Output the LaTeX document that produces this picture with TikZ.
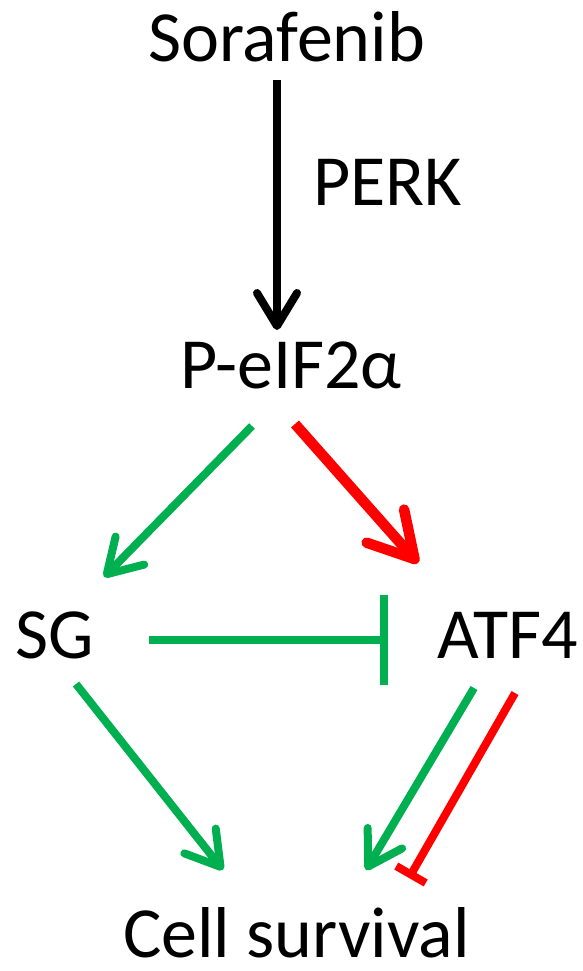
\documentclass[tikz,border=0pt]{standalone}
\usepackage{fontspec}
\setmainfont{Carlito}
\usetikzlibrary{arrows.meta}
\definecolor{okgreen}{HTML}{00B050}
\definecolor{okred}{HTML}{FF0000}
\begin{document}
\begin{tikzpicture}[x=1pt,y=-1pt,
  lbl/.style={inner sep=0pt, anchor=base west, font=\fontsize{72}{86}\selectfont},
  act/.style={line width=8pt, -{Straight Barb[length=33pt,width=40pt,round]}},
  bigact/.style={line width=10.5pt, -{Straight Barb[length=44pt,width=50pt,round]}},
  inh/.style={line width=8pt, -{Bar[width=#1]}}]
\useasboundingbox (0,0) rectangle (582,971);
% labels
\node[lbl] (sor) at (148,62) {Sorafenib};
\node[lbl] (perk) at (313,205) {PERK};
\node[lbl] (peif) at (180,388) {P-eIF2α};
\node[lbl] (sg) at (15,658) {SG};
\node[lbl] (atf) at (437,658) {ATF4};
\node[lbl] (cs) at (123,957) {Cell survival};
% connector end points
\coordinate (sorB) at (277,80);
\coordinate (peifT) at (277,330);
\coordinate (peifL) at (252,426);
\coordinate (sgT) at (104,577);
\coordinate (peifR) at (295,424);
\coordinate (atfT) at (418,563);
\coordinate (sgR) at (149,640);
\coordinate (atfL) at (388,640);
\coordinate (sgB) at (76,684);
\coordinate (csL) at (223,870);
\coordinate (atfB1) at (474,688);
\coordinate (csR) at (366,870);
\coordinate (atfB2) at (515,693);
\coordinate (csRR) at (409,878);
% connectors
\draw[act, black] (sorB) -- (peifT);
\draw[act, okgreen] (peifL) -- (sgT);
\draw[bigact, okred] (peifR) -- (atfT);
\draw[inh=90pt, okgreen] (sgR) -- (atfL);
\draw[act, okgreen] (sgB) -- (csL);
\draw[act, okgreen] (atfB1) -- (csR);
\draw[inh=34pt, okred] (atfB2) -- (csRR);
\end{tikzpicture}
\end{document}
